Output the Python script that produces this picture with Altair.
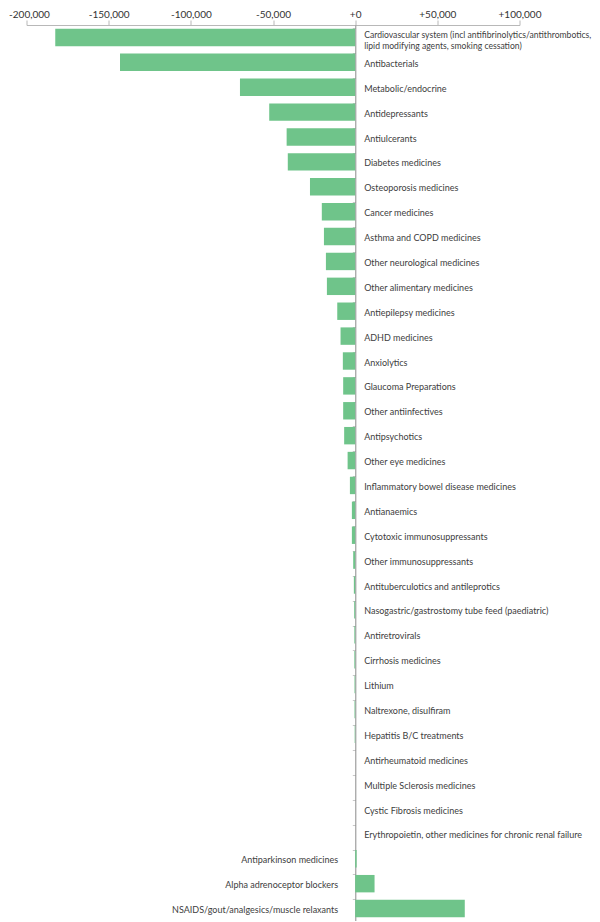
import altair as alt
import pandas as pd

categories = [
    "Cardiovascular system (incl antifibrinolytics/antithrombotics,\nlipid modifying agents, smoking cessation)",
    "Antibacterials",
    "Metabolic/endocrine",
    "Antidepressants",
    "Antiulcerants",
    "Diabetes medicines",
    "Osteoporosis medicines",
    "Cancer medicines",
    "Asthma and COPD medicines",
    "Other neurological medicines",
    "Other alimentary medicines",
    "Antiepilepsy medicines",
    "ADHD medicines",
    "Anxiolytics",
    "Glaucoma Preparations",
    "Other antiinfectives",
    " Antipsychotics",
    "Other eye medicines",
    "Inflammatory bowel disease medicines",
    "Antianaemics",
    "Cytotoxic immunosuppressants",
    "Other immunosuppressants",
    "Antituberculotics and antileprotics",
    "Nasogastric/gastrostomy tube feed (paediatric)",
    "Antiretrovirals",
    "Cirrhosis medicines",
    "Lithium",
    "Naltrexone, disulfiram",
    "Hepatitis B/C treatments",
    "Antirheumatoid medicines",
    "Multiple Sclerosis medicines",
    " Cystic Fibrosis medicines",
    "Erythropoietin, other medicines for chronic renal failure",
    "Antiparkinson medicines",
    "Alpha adrenoceptor blockers",
    "NSAIDS/gout/analgesics/muscle relaxants",
]

values = [
    -182500, -143100, -70100, -52300, -41700, -41000, -27500, -20300, -19000,
    -17800, -17200, -10900, -8900, -7500, -7300, -7300, -6700, -4600, -3200,
    -2000, -2000, -1200, -800, -600, -500, -500, -400, -400, -300, 0, 0, 0, 0,
    900, 11800, 66700,
]

tick_values = [-200000, -150000, -100000, -50000, 0, 50000, 100000]

df = pd.DataFrame({"cat": categories, "value": values})
df["multi"] = df["cat"].str.contains("\n")

green = "#6fc48a"
font = "Lato"

y_enc = alt.Y(
    "cat:N",
    sort=categories,
    scale=alt.Scale(paddingInner=0.3, paddingOuter=0.15),
    axis=alt.Axis(
        title=None,
        labels=False,
        offset=-328.8,
        bandPosition=0,
        domainColor="#8a8a8a",
        domainWidth=1,
        tickColor="#c8c8c8",
        tickSize=3,
        grid=False,
    ),
)

x_enc = alt.X(
    "value:Q",
    scale=alt.Scale(domain=[-200000, 100000], nice=False, zero=False),
    axis=alt.Axis(
        orient="top",
        title=None,
        values=tick_values,
        labelExpr="datum.value < 0 ? '-' + format(-datum.value, ',') : '+' + format(datum.value, ',')",
        labelFont=font,
        labelFontSize=10,
        labelColor="#333333",
        labelPadding=1,
        labelOffset={"condition": {"test": "datum.value == -200000", "value": 2.5}, "value": 0},
        domainColor="#b8b8b8",
        tickColor="#b8b8b8",
        tickSize=5,
        grid=False,
        labelFlush=False,
    ),
)

bars = alt.Chart(df).mark_bar(color=green).encode(x=x_enc, y=y_enc)

y_plain = alt.Y("cat:N", sort=categories)

left_labels = (
    alt.Chart(df)
    .transform_filter("datum.value <= 0 && !datum.multi")
    .mark_text(align="left", baseline="middle", dx=9, dy=1.5, font=font, fontSize=9,
               color="#404040")
    .encode(x=alt.datum(0), y=y_plain, text="cat:N")
)

multi_label = (
    alt.Chart(df)
    .transform_filter("datum.multi")
    .mark_text(align="left", baseline="middle", dx=9, dy=-2, font=font, fontSize=8.6,
               color="#404040", lineBreak="\n", lineHeight=10.5)
    .encode(x=alt.datum(0), y=y_plain, text="cat:N")
)

right_labels = (
    alt.Chart(df)
    .transform_filter("datum.value > 0")
    .mark_text(align="right", baseline="middle", dx=-17, dy=1.5, font=font, fontSize=9,
               color="#404040")
    .encode(x=alt.datum(0), y=y_plain, text="cat:N")
)

chart = (
    alt.layer(bars, left_labels, multi_label, right_labels)
    .properties(
        width=493,
        height=896,
        autosize=alt.AutoSizeParams(type="none"),
        padding={"left": 18.5, "top": 17, "right": 72.5, "bottom": 0},
    )
    .configure_view(stroke=None)
)

chart.save("out.html", embed_options={"renderer": "svg", "actions": False})
